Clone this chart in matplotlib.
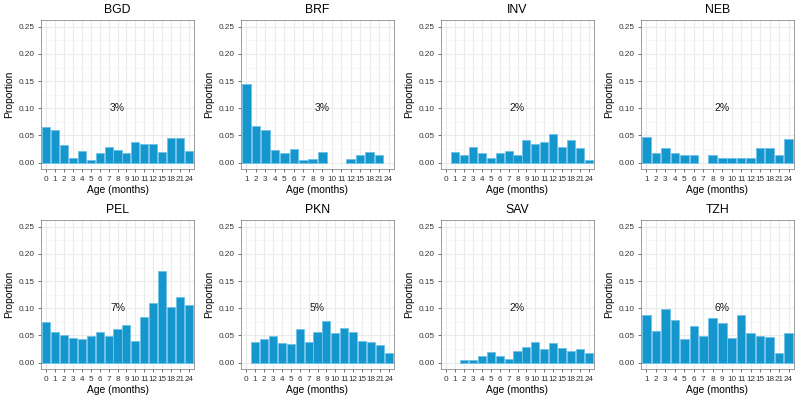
import numpy as np
import matplotlib.pyplot as plt
from matplotlib.ticker import MultipleLocator

plt.rcParams['font.family'] = ['Liberation Sans', 'DejaVu Sans']

ages_0 = ['0', '1', '2', '3', '4', '5', '6', '7', '8', '9', '10', '11', '12', '15', '18', '21', '24']
ages_1 = ages_0[1:]

sites = ['BGD', 'BRF', 'INV', 'NEB', 'PEL', 'PKN', 'SAV', 'TZH']
site_ages = [ages_0, ages_1, ages_0, ages_1, ages_0, ages_0, ages_0, ages_1]
labels = ['3%', '3%', '2%', '2%', '7%', '5%', '2%', '6%']

nan = np.nan
bgd = [0.066, 0.059, 0.033, 0.008, 0.022, 0.004, 0.018, 0.029, 0.023, 0.018,
       0.037, 0.035, 0.035, 0.019, 0.046, 0.046, 0.021]
brf = [0.145, 0.067, 0.059, 0.023, 0.017, 0.024, 0.005, 0.006, 0.019, nan,
       nan, 0.006, 0.013, 0.020, 0.013, nan]
inv = [nan, 0.020, 0.013, 0.028, 0.018, 0.009, 0.018, 0.022, 0.013, 0.042,
       0.034, 0.037, 0.052, 0.028, 0.042, 0.026, 0.004]
neb = [0.047, 0.018, 0.027, 0.018, 0.013, 0.013, nan, 0.013, 0.008, 0.008,
       0.008, 0.008, 0.026, 0.027, 0.013, 0.044]
pel = [0.074, 0.057, 0.051, 0.046, 0.043, 0.049, 0.057, 0.048, 0.061, 0.070,
       0.040, 0.084, 0.109, 0.169, 0.103, 0.120, 0.106]
pkn = [nan, 0.037, 0.044, 0.048, 0.036, 0.035, 0.061, 0.037, 0.057, 0.076,
       0.055, 0.064, 0.057, 0.040, 0.037, 0.032, 0.017]
sav = [nan, nan, 0.004, 0.004, 0.012, 0.020, 0.012, 0.007, 0.021, 0.028,
       0.038, 0.024, 0.036, 0.026, 0.021, 0.025, 0.018]
tzh = [0.087, 0.058, 0.098, 0.078, 0.043, 0.067, 0.049, 0.082, 0.072, 0.046,
       0.088, 0.054, 0.048, 0.047, 0.018, 0.055]
values = [bgd, brf, inv, neb, pel, pkn, sav, tzh]

bar_color = '#1597CD'
edge_color = '#6CC2E8'
grid_major = '#EBEBEB'
grid_minor = '#F4F4F4'

fig = plt.figure(figsize=(8, 4), dpi=100)

for k, site in enumerate(sites):
    r, c = divmod(k, 4)
    left = (40.7 + 200 * c) / 800
    bottom = 1 - (169.3 + 200 * r) / 400
    ax = fig.add_axes([left, bottom, 153.6 / 800, 149.3 / 400])

    cats = site_ages[k]
    x = np.arange(len(cats))
    ax.bar(x, values[k], width=0.9, color=bar_color, edgecolor=edge_color,
           linewidth=0.6, zorder=3)
    # percentage label sits on the 9th category of every panel
    ax.text(8, 0.1, labels[k], ha='center', va='center', fontsize=7.5,
            color='#1A1A1A', zorder=4)

    ax.set_xlim(-0.6, len(cats) - 0.4)
    ax.set_ylim(-0.0125, 0.2625)
    ax.set_xticks(x)
    ax.set_xticklabels(cats)
    ax.yaxis.set_major_locator(MultipleLocator(0.05))
    ax.yaxis.set_minor_locator(MultipleLocator(0.025))
    ax.yaxis.set_major_formatter(plt.FuncFormatter(lambda v, p: '%.2f' % v))

    ax.grid(True, which='major', color=grid_major, linewidth=0.8, zorder=0)
    ax.grid(True, which='minor', axis='y', color=grid_minor, linewidth=0.5, zorder=0)
    ax.set_axisbelow(True)

    ax.tick_params(axis='both', which='major', labelsize=5.9, colors='#333333',
                   length=2.5, width=0.5, pad=2, labelcolor='#333333')
    ax.tick_params(axis='y', which='minor', length=0)
    for s in ax.spines.values():
        s.set_color('#8C8C8C')
        s.set_linewidth(0.6)

    ax.set_title(site, fontsize=8.8, pad=5, color='#000000')
    ax.set_xlabel('Age (months)', fontsize=7.4, labelpad=2, color='#000000')
    ax.set_ylabel('Proportion', fontsize=7.4, labelpad=3, color='#000000')

fig.savefig('out.png', dpi=100)
